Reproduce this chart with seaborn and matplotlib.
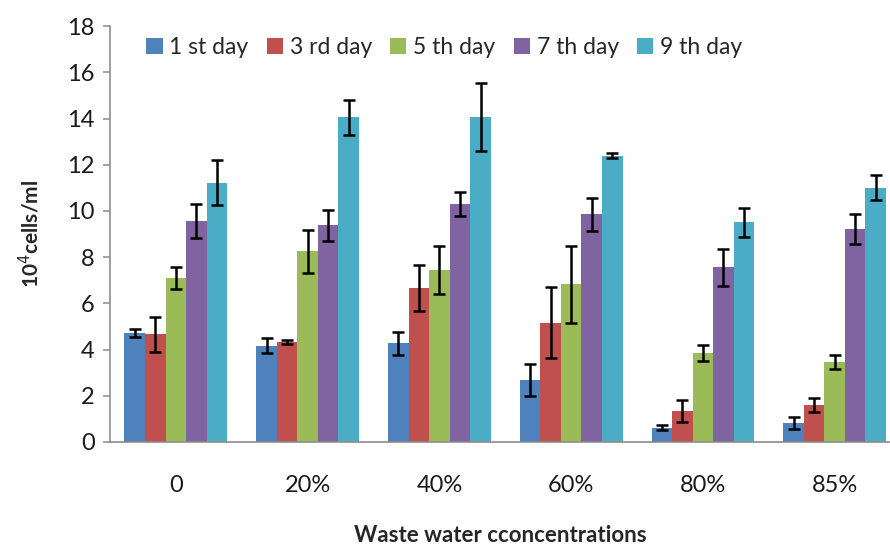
import numpy as np
import pandas as pd
import matplotlib
matplotlib.use("Agg")
import matplotlib.pyplot as plt
import seaborn as sns

# Waste water concentrations (x categories) and sampling days (series)
concentrations = ["0", "20%", "40%", "60%", "80%", "85%"]
days = ["1 st day", "3 rd day", "5 th day", "7 th day", "9 th day"]

# Mean cell counts (10^4 cells/ml) per day, one value per concentration
day1 = [4.73, 4.17, 4.27, 2.68, 0.62, 0.84]
day3 = [4.66, 4.33, 6.66, 5.16, 1.34, 1.60]
day5 = [7.11, 8.26, 7.44, 6.82, 3.84, 3.45]
day7 = [9.56, 9.39, 10.30, 9.85, 7.56, 9.22]
day9 = [11.22, 14.06, 14.08, 12.39, 9.51, 11.00]

# Standard deviations
sd1 = [0.17, 0.32, 0.50, 0.68, 0.10, 0.26]
sd3 = [0.76, 0.10, 0.99, 1.53, 0.49, 0.31]
sd5 = [0.47, 0.93, 1.03, 1.68, 0.34, 0.30]
sd7 = [0.74, 0.67, 0.50, 0.71, 0.79, 0.64]
sd9 = [0.98, 0.76, 1.47, 0.11, 0.63, 0.54]

colors = ["#4F81BD", "#C0504D", "#9BBB59", "#8064A2", "#4BACC6"]

means = [day1, day3, day5, day7, day9]
sds = [sd1, sd3, sd5, sd7, sd9]

df = pd.DataFrame({
    "conc": np.tile(concentrations, len(days)),
    "day": np.repeat(days, len(concentrations)),
    "value": np.concatenate(means),
    "sd": np.concatenate(sds),
})

sns.set_style("white")
plt.rcParams["font.family"] = ["Lato", "DejaVu Sans"]

fig = plt.figure(figsize=(8.9, 5.45), dpi=100)
ax = fig.add_axes([0.1236, 0.189, 0.8764, 0.763])

sns.barplot(data=df, x="conc", y="value", hue="day", order=concentrations,
            hue_order=days, palette=colors, width=0.78, gap=0,
            errorbar=None, saturation=1, ax=ax, edgecolor="none")

# Error bars placed at the centre of each drawn bar
for i, (day, sd_list) in enumerate(zip(days, sds)):
    cont = ax.containers[i]
    xs = [p.get_x() + p.get_width() / 2 for p in cont.patches]
    hs = [p.get_height() for p in cont.patches]
    ax.errorbar(xs, hs, yerr=sd_list, fmt="none", ecolor="black",
                elinewidth=1.8, capsize=4.5, capthick=1.8, zorder=5)

ax.set_ylim(0, 18)
ax.set_yticks(np.arange(0, 19, 2))
ax.set_xlim(-0.5, 5.42)

for s in ["top", "right"]:
    ax.spines[s].set_visible(False)
for s in ["left", "bottom"]:
    ax.spines[s].set_color("#8c8c8c")
    ax.spines[s].set_linewidth(1.2)

ax.tick_params(axis="y", which="both", left=True, length=5, width=1.1,
               color="#8c8c8c", labelsize=17, pad=6, labelcolor="#1a1a1a")
ax.tick_params(axis="x", bottom=False, labelsize=17, pad=20,
               labelcolor="#1a1a1a")

ax.set_xlabel("Waste water cconcentrations", fontsize=16, fontweight="bold",
              labelpad=21)
ax.set_ylabel("10$^{4}$cells/ml", fontsize=15, fontweight="bold", labelpad=18)

leg = ax.legend(loc="upper left", bbox_to_anchor=(0.035, 0.995), ncol=5,
                frameon=False, fontsize=16.5, handlelength=0.7,
                handleheight=0.7, handletextpad=0.3, columnspacing=0.8,
                borderaxespad=0)

fig.savefig("out.png", dpi=100)
